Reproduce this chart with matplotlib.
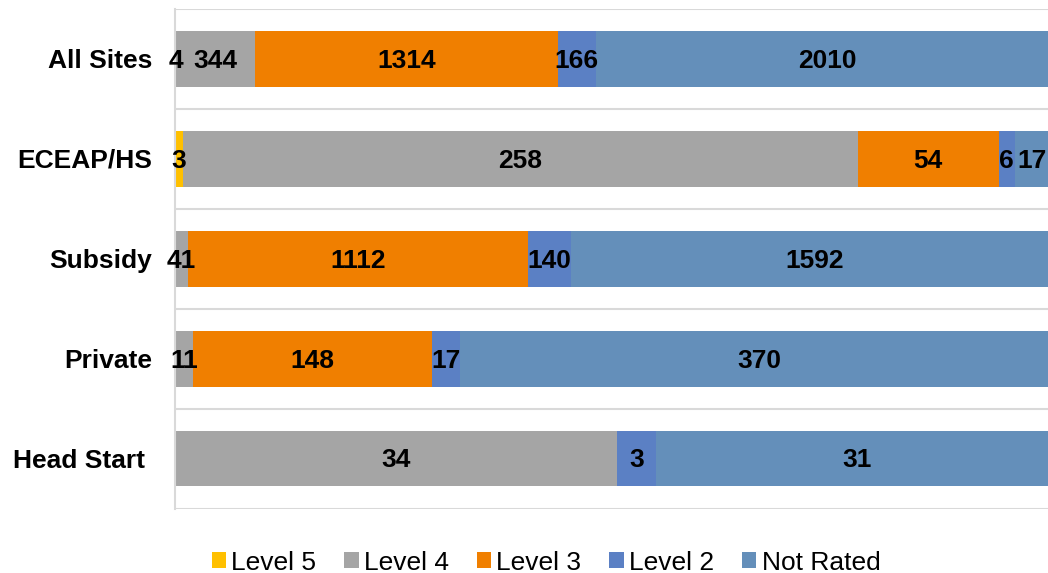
import numpy as np
import matplotlib
matplotlib.use("Agg")
import matplotlib.pyplot as plt
import matplotlib.transforms as mtransforms

plt.rcParams['font.family'] = ['Liberation Sans', 'DejaVu Sans']

categories = ["All Sites", "ECEAP/HS", "Subsidy", "Private", "Head Start"]
levels = ["Level 5", "Level 4", "Level 3", "Level 2", "Not Rated"]
level5 = [4, 3, 0, 0, 0]
level4 = [344, 258, 41, 11, 34]
level3 = [1314, 54, 1112, 148, 0]
level2 = [166, 6, 140, 17, 3]
not_rated = [2010, 17, 1592, 370, 31]
colors = ["#FFC000", "#A5A5A5", "#F07F00", "#5B80C4", "#648FBA"]

series = np.array([level5, level4, level3, level2, not_rated], dtype=float)
totals = series.sum(axis=0)
shares = series / totals

fig = plt.figure(figsize=(10.48, 5.73), dpi=100)
ax = fig.add_axes([175 / 1048, 1 - 508.5 / 573, 884 / 1048, 500 / 573])

y = np.arange(len(categories))
left = np.zeros(len(categories))
for i, name in enumerate(levels):
    ax.barh(y, shares[i], left=left, height=0.56, color=colors[i],
            label=name, zorder=2, edgecolor="none")
    for j in range(len(categories)):
        if series[i, j] > 0:
            # keep the label inside the visible part of the chart
            xc = min(left[j] + shares[i, j] / 2, 0.97)
            ax.text(xc, y[j] + 0.02, str(int(series[i, j])),
                    ha="center", va="center", fontsize=19, fontweight="bold",
                    color="black", zorder=3)
    left = left + shares[i]

ax.set_xlim(0, 1)
ax.set_ylim(4.5, -0.5)
ax.set_yticks(y)
ax.set_yticklabels(categories, fontsize=19, fontweight="bold")
ax.tick_params(axis="y", length=0, pad=16.5)
# Head Start label sits a bit further left in the original
lab = ax.get_yticklabels()[-1]
lab.set_transform(lab.get_transform() +
                  mtransforms.ScaledTranslation(-0.07, 0, fig.dpi_scale_trans))
ax.set_xticks([])
for b in np.arange(-0.5, 5, 1):
    ax.axhline(b, color="#D9D9D9", linewidth=1.5, zorder=1)
for s in ["top", "right", "bottom"]:
    ax.spines[s].set_visible(False)
ax.spines["left"].set_color("#D9D9D9")
ax.spines["left"].set_linewidth(1.5)

fig.legend(loc="center", bbox_to_anchor=(0.521, 0.018), ncol=5, frameon=False,
           fontsize=19, handlelength=0.55, handleheight=0.55, handletextpad=0.2,
           columnspacing=1.05)

fig.savefig("out.png", dpi=100)
